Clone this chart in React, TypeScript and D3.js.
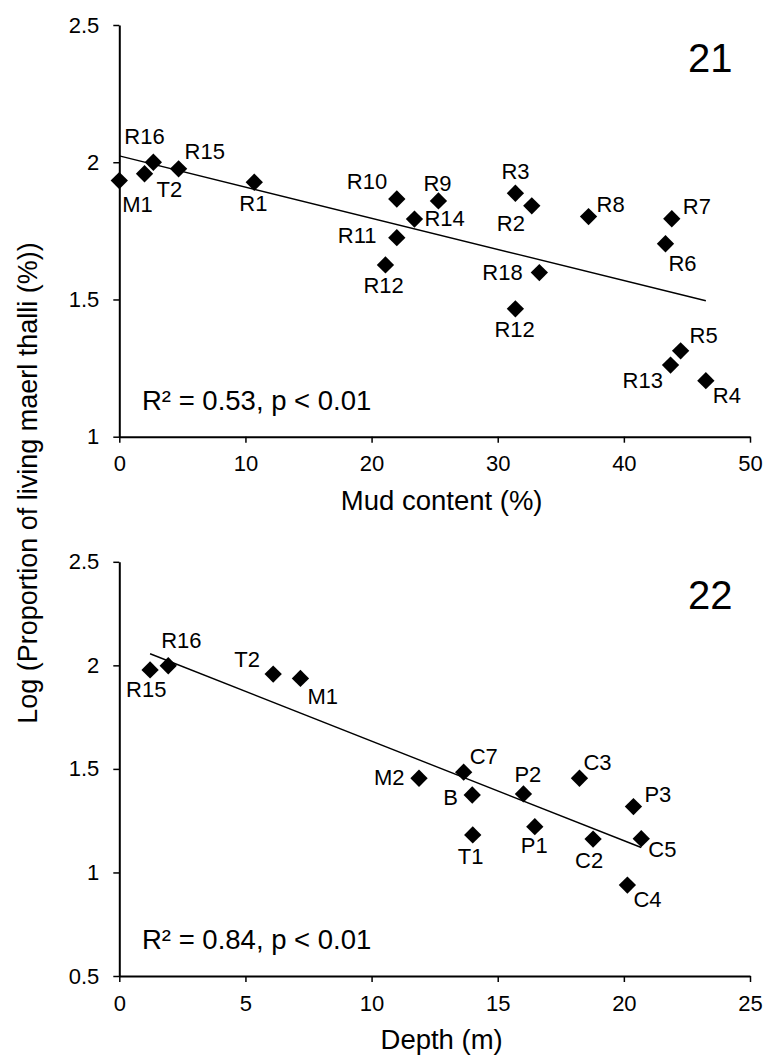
import { useEffect, useRef } from 'react';
import * as d3 from 'd3';

// Fig. 21: mud content vs log proportion of living maerl
const mudSites = ['M1', 'T2', 'R16', 'R15', 'R1', 'R10', 'R9', 'R14', 'R11', 'R12', 'R3', 'R2', 'R8', 'R7', 'R6', 'R18', 'R12', 'R5', 'R13', 'R4'];
const mudContent = [0, 2.0, 2.7, 4.7, 10.7, 22.0, 25.3, 23.4, 22.0, 21.1, 31.4, 32.7, 37.2, 43.8, 43.3, 33.3, 31.4, 44.5, 43.7, 46.5];
const mudLogLiving = [1.933, 1.958, 2.0, 1.976, 1.927, 1.866, 1.859, 1.793, 1.725, 1.626, 1.887, 1.841, 1.802, 1.794, 1.703, 1.598, 1.466, 1.313, 1.261, 1.204];
const mudTrend = { intercept: 2.023, slope: -0.01135 };
const mudXTicks = [0, 10, 20, 30, 40, 50];
const mudYTicks = [1, 1.5, 2, 2.5];

// Fig. 22: depth vs log proportion of living maerl
const depthSites = ['R15', 'R16', 'T2', 'M1', 'M2', 'C7', 'B', 'P2', 'C3', 'P3', 'T1', 'P1', 'C2', 'C5', 'C4'];
const depthValues = [1.22, 1.94, 6.1, 7.18, 11.88, 13.65, 13.99, 16.02, 18.24, 20.38, 14.01, 16.47, 18.78, 20.69, 20.14];
const depthLogLiving = [1.978, 1.998, 1.958, 1.937, 1.455, 1.484, 1.374, 1.379, 1.455, 1.318, 1.181, 1.221, 1.161, 1.163, 0.939];
const depthTrend = { intercept: 2.1146, slope: -0.04805 };
const depthXTicks = [0, 5, 10, 15, 20, 25];
const depthYTicks = [0.5, 1, 1.5, 2, 2.5];

// label placement relative to the marker (layout only)
const mudLabelOffsets: [number, number][] = [
  [3, 31], [12, 23], [-29, -18], [6, -10], [-15, 29], [-50, -10], [-15, -10], [10, 7], [-59, 5], [-22, 28],
  [-14, -14], [-35, 25], [8, -5], [11, -5], [3, 27], [-57, 7], [-21, 28], [9, -8], [-48, 23], [7, 22],
];
const depthLabelOffsets: [number, number][] = [
  [-24, 27], [-7, -18], [-39, -7], [7, 26], [-45, 7], [6, -8], [-29, 10], [-9, -12], [4, -8], [11, -5],
  [-15, 29], [-14, 26], [-18, 29], [7, 18], [6, 22],
];

const FONT = 'Arial, "Liberation Sans", sans-serif';

type Panel = {
  top: number;
  bottom: number;
  xDomain: [number, number];
  yDomain: [number, number];
  xTicks: number[];
  yTicks: number[];
  sites: string[];
  xs: number[];
  ys: number[];
  offsets: [number, number][];
  trend: { intercept: number; slope: number };
  xTitle: string;
  stat: string;
  tag: string;
};

const App = () => {
  const svgRef = useRef<SVGSVGElement | null>(null);

  useEffect(() => {
    document.body.style.margin = '0';
    const svg = d3.select(svgRef.current);
    svg.selectAll('*').remove();

    const left = 119.3;
    const right = 750;

    const drawPanel = (p: Panel) => {
      const x = d3.scaleLinear().domain(p.xDomain).range([left, right]);
      const y = d3.scaleLinear().domain(p.yDomain).range([p.bottom, p.top]);
      const g = svg.append('g');

      const yAxis = g
        .append('g')
        .attr('transform', `translate(${left},0)`)
        .call(d3.axisLeft(y).tickValues(p.yTicks).tickSize(6).tickSizeOuter(0).tickPadding(14).tickFormat(d3.format('~g')));
      const xAxis = g
        .append('g')
        .attr('transform', `translate(0,${p.bottom})`)
        .call(d3.axisBottom(x).tickValues(p.xTicks).tickSize(6).tickSizeOuter(0).tickPadding(13).tickFormat(d3.format('~g')));

      [yAxis, xAxis].forEach(a => {
        a.select('.domain').attr('stroke', '#000').attr('stroke-width', 2);
        a.selectAll('.tick line').attr('stroke', '#000').attr('stroke-width', 1.5);
        a.selectAll('.tick text').attr('font-family', FONT).attr('font-size', 22).attr('fill', '#000');
      });

      // trend line across the data range
      const [xMin, xMax] = d3.extent(p.xs) as [number, number];
      const line = d3
        .line<number>()
        .x(d => x(d))
        .y(d => y(p.trend.intercept + p.trend.slope * d));
      g.append('path')
        .attr('d', line([xMin, xMax]))
        .attr('fill', 'none')
        .attr('stroke', '#000')
        .attr('stroke-width', 1.4);

      const diamond = d3.symbol().type(d3.symbolSquare).size(150);
      g.selectAll('path.pt')
        .data(p.xs)
        .join('path')
        .attr('class', 'pt')
        .attr('d', diamond() as string)
        .attr('transform', (d, i) => `translate(${x(d)},${y(p.ys[i])}) rotate(45)`)
        .attr('fill', '#000');

      g.selectAll('text.lbl')
        .data(p.sites)
        .join('text')
        .attr('class', 'lbl')
        .attr('x', (_d, i) => x(p.xs[i]) + p.offsets[i][0])
        .attr('y', (_d, i) => y(p.ys[i]) + p.offsets[i][1])
        .attr('font-family', FONT)
        .attr('font-size', 22)
        .text(d => d);

      g.append('text')
        .attr('x', 142)
        .attr('y', p.bottom - 27)
        .attr('font-family', FONT)
        .attr('font-size', 27.5)
        .text(p.stat);

      g.append('text')
        .attr('x', 688)
        .attr('y', p.top + 47)
        .attr('font-family', FONT)
        .attr('font-size', 40)
        .text(p.tag);

      g.append('text')
        .attr('x', (left + right) / 2 + 7)
        .attr('y', p.bottom + 73)
        .attr('text-anchor', 'middle')
        .attr('font-family', FONT)
        .attr('font-size', 27.5)
        .text(p.xTitle);
    };

    drawPanel({
      top: 25,
      bottom: 436.7,
      xDomain: [0, 50],
      yDomain: [1, 2.5],
      xTicks: mudXTicks,
      yTicks: mudYTicks,
      sites: mudSites,
      xs: mudContent,
      ys: mudLogLiving,
      offsets: mudLabelOffsets,
      trend: mudTrend,
      xTitle: 'Mud content (%)',
      stat: 'R² = 0.53, p < 0.01',
      tag: '21',
    });

    drawPanel({
      top: 561.8,
      bottom: 976,
      xDomain: [0, 25],
      yDomain: [0.5, 2.5],
      xTicks: depthXTicks,
      yTicks: depthYTicks,
      sites: depthSites,
      xs: depthValues,
      ys: depthLogLiving,
      offsets: depthLabelOffsets,
      trend: depthTrend,
      xTitle: 'Depth (m)',
      stat: 'R² = 0.84, p < 0.01',
      tag: '22',
    });

    svg
      .append('text')
      .attr('transform', 'translate(37,483) rotate(-90)')
      .attr('text-anchor', 'middle')
      .attr('font-family', FONT)
      .attr('font-size', 27)
      .text('Log (Proportion of living maerl thalli (%))');
  }, []);

  return (
    <svg
      ref={svgRef}
      width={765}
      height={1062}
      style={{ position: 'absolute', left: 0, top: 0, background: '#fff' }}
    />
  );
};

export default App;
